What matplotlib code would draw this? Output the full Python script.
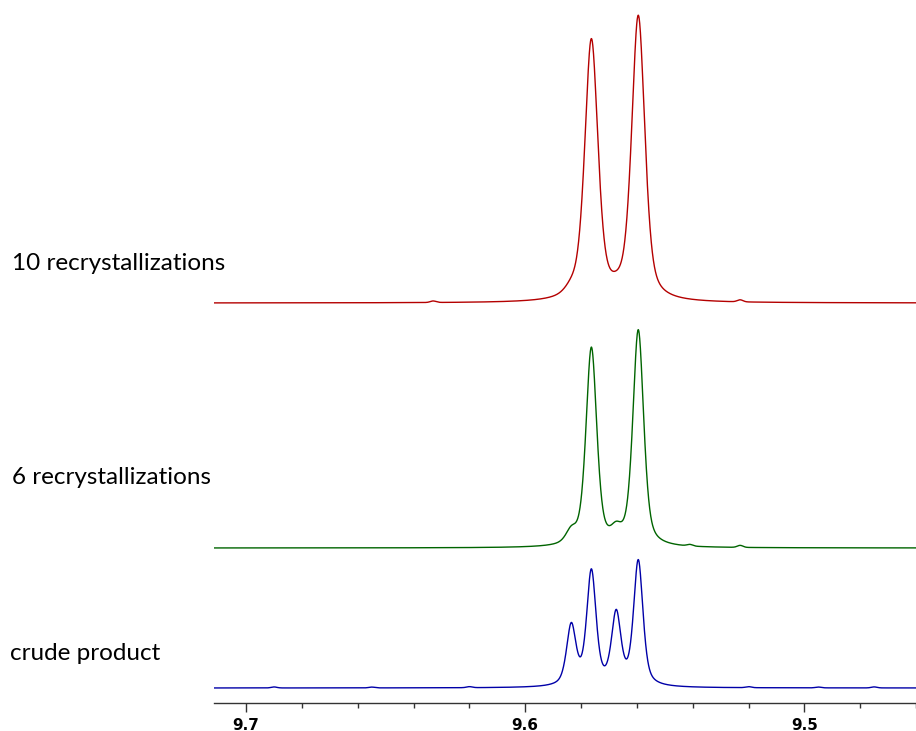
import numpy as np
import matplotlib.pyplot as plt
from matplotlib.ticker import MultipleLocator

# chemical shift window (ppm), plotted high -> low
ppm_left, ppm_right = 9.7115, 9.46

# peak centres (ppm): product doublet and by-product doublet
centres = [9.5763, 9.5595, 9.5835, 9.5674]

# peak amplitudes per sample (same order as centres)
amp_crude = [114, 125, 60, 71]
amp_6x = [198, 216, 12, 12]
amp_10x = [260, 284, 6, 4]

# small baseline bumps (ppm, amplitude)
bumps_crude = [(9.690, 1.0), (9.655, 0.8), (9.620, 1.0), (9.520, 1.0), (9.495, 0.8), (9.475, 1.0)]
bumps_6x = [(9.541, 1.5), (9.523, 2.0)]
bumps_10x = [(9.633, 1.5), (9.523, 2.0)]

labels = ['crude product', '6 recrystallizations', '10 recrystallizations']
colors = ['#0000a8', '#006400', '#b40000']
offsets = [15, 155, 400]
hwhm = [0.0020, 0.0023, 0.0028]
eta = [0.55, 0.5, 0.5]


def pseudo_voigt(x, c, h, w, eta=0.75):
    lor = 1.0 / (1.0 + ((x - c) / w) ** 2)
    gau = np.exp(-np.log(2) * ((x - c) / w) ** 2)
    return h * (eta * lor + (1 - eta) * gau)


x = np.linspace(ppm_left, ppm_right, 4000)

fig = plt.figure(figsize=(9.16, 7.31), dpi=100)
ax = fig.add_axes([214 / 916, 28 / 731, 702 / 916, 703 / 731])

for amps, bumps, col, off, w, e in zip([amp_crude, amp_6x, amp_10x],
                                       [bumps_crude, bumps_6x, bumps_10x],
                                       colors, offsets, hwhm, eta):
    y = np.full_like(x, off, dtype=float)
    for c, h in zip(centres, amps):
        y += pseudo_voigt(x, c, h, w, e)
    for c, h in bumps:
        y += pseudo_voigt(x, c, h, 0.0012, eta=0.0)
    ax.plot(x, y, color=col, lw=1.0)

ax.set_xlim(ppm_left, ppm_right)
ax.set_ylim(0, 703)

for s in ['top', 'left', 'right']:
    ax.spines[s].set_visible(False)
ax.spines['bottom'].set_color('#333333')
ax.spines['bottom'].set_linewidth(1.0)
ax.set_yticks([])
ax.xaxis.set_major_locator(MultipleLocator(0.1))
ax.xaxis.set_minor_locator(MultipleLocator(0.02))
ax.tick_params(axis='x', which='major', length=6.5, width=1, color='#333333', pad=4)
ax.tick_params(axis='x', which='minor', length=3.6, width=1, color='#333333')
ax.xaxis.set_major_formatter(plt.FuncFormatter(lambda v, p: f'{v:.1f}'))
for t in ax.get_xticklabels():
    t.set_fontweight('bold')
    t.set_fontsize(11)
    t.set_family('DejaVu Sans')

# sample labels to the left of each trace
label_y = [654, 477, 263]
label_x = [10, 12, 12]
for lab, lx, ly in zip(labels, label_x, label_y):
    fig.text(lx / 916, 1 - ly / 731, lab, fontsize=17.5, family='Lato',
             va='center', ha='left', color='black')

fig.savefig('out.png', dpi=100)
